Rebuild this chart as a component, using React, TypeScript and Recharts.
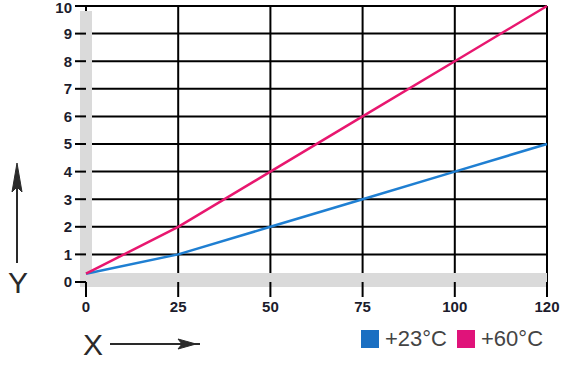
import {
  CartesianGrid,
  Line,
  LineChart,
  ReferenceLine,
  XAxis,
  YAxis,
} from 'recharts';

const categories = ['0', '25', '50', '75', '100', '120'];
const warmValues = [0.3, 1, 2, 3, 4, 5];
const hotValues = [0.3, 2, 4, 6, 8, 10];
const yTicks = [0, 1, 2, 3, 4, 5, 6, 7, 8, 9, 10];

const series = [
  { key: 'warm', label: '+23°C', color: '#1f7fd2', swatch: '#1a6fc2' },
  { key: 'hot', label: '+60°C', color: '#e8176f', swatch: '#e0137a' },
];

const data = categories.map((x, i) => ({
  x,
  warm: warmValues[i],
  hot: hotValues[i],
}));

const band = '#dadada';
const tickFont = {
  fontFamily: '"Liberation Sans", Arial, sans-serif',
  fontSize: 15,
  fontWeight: 700,
  fill: '#1c1c2c',
};

// keeps the top label ("10") inside the picture
function YTick({ x, y, payload }: any) {
  return (
    <text
      x={x}
      y={Math.max(y, 8)}
      dy="0.355em"
      textAnchor="end"
      {...tickFont}
    >
      {payload.value}
    </text>
  );
}

function LegendBox() {
  return (
    <div
      style={{
        position: 'absolute',
        left: 361,
        top: 326,
        display: 'flex',
        alignItems: 'center',
        fontFamily: '"Liberation Sans", Arial, sans-serif',
        fontSize: 22,
        color: '#444',
        whiteSpace: 'nowrap',
      }}
    >
      {series.map((s) => (
        <div
          key={s.key}
          style={{ display: 'flex', alignItems: 'center', marginRight: 10 }}
        >
          <span
            style={{
              width: 18,
              height: 18,
              background: s.swatch,
              marginRight: 6,
              display: 'inline-block',
            }}
          />
          <span>{s.label}</span>
        </div>
      ))}
    </div>
  );
}

export default function App() {
  return (
    <div
      style={{
        position: 'absolute',
        left: 0,
        top: 0,
        width: 570,
        height: 372,
        background: '#fff',
      }}
    >
      <LineChart
        width={570}
        height={372}
        data={data}
        margin={{ top: 6, right: 23, bottom: 60, left: 0 }}
      >
        <CartesianGrid stroke="#000" strokeWidth={2} />
        <XAxis
          dataKey="x"
          height={30}
          axisLine={false}
          tickLine={{ stroke: '#000', strokeWidth: 2 }}
          tickSize={15}
          tickMargin={4}
          tick={tickFont}
          interval={0}
        />
        <YAxis
          width={86}
          domain={[0, 10]}
          ticks={yTicks}
          axisLine={false}
          tickLine={{ stroke: '#000', strokeWidth: 2 }}
          tickSize={11}
          tickMargin={3}
          tick={<YTick />}
          interval={0}
        />
        <ReferenceLine
          segment={[
            { x: '0', y: 0.07 },
            { x: '120', y: 0.07 },
          ]}
          stroke={band}
          strokeWidth={14}
          ifOverflow="visible"
        />
        <ReferenceLine
          segment={[
            { x: '0', y: -0.18 },
            { x: '0', y: 9.82 },
          ]}
          stroke={band}
          strokeWidth={12}
          ifOverflow="visible"
        />
        {series.map((s) => (
          <Line
            key={s.key}
            dataKey={s.key}
            name={s.label}
            stroke={s.color}
            strokeWidth={2.5}
            dot={false}
            isAnimationActive={false}
          />
        ))}
      </LineChart>
      <LegendBox />
      <svg
        width={570}
        height={372}
        style={{ position: 'absolute', left: 0, top: 0, pointerEvents: 'none' }}
      >
        <g fill="#2a2a2a" stroke="#2a2a2a">
          <line x1={17} y1={185} x2={17} y2={263} strokeWidth={2} />
          <path d="M17 163 L22 192 L17 187 L12 192 Z" strokeWidth={1} />
          <line x1={110} y1={344} x2={200} y2={344} strokeWidth={2} />
          <path d="M196 344 L178 339 L182 344 L178 349 Z" strokeWidth={1} />
        </g>
        <text
          x={8}
          y={293}
          fontFamily='"Liberation Sans", Arial, sans-serif'
          fontSize={30}
          fill="#2a2a2a"
        >
          Y
        </text>
        <text
          x={83}
          y={355}
          fontFamily='"Liberation Sans", Arial, sans-serif'
          fontSize={30}
          fill="#2a2a2a"
        >
          X
        </text>
      </svg>
    </div>
  );
}
